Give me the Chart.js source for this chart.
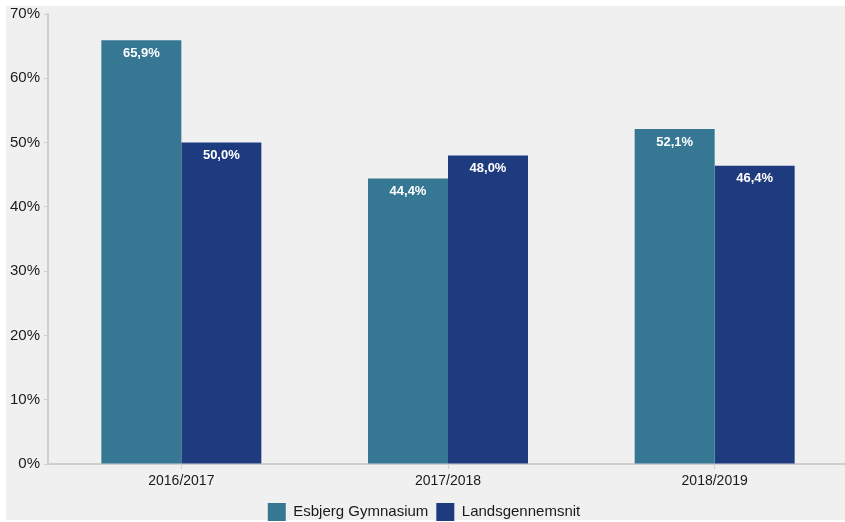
<!DOCTYPE html>
<html>
<head>
<meta charset="utf-8">
<script src="https://cdn.jsdelivr.net/npm/chart.js@4"></script>
<style>
  body { margin: 0; background: #fff; overflow: hidden; }
  #outer { width: 845px; height: 522px; overflow: hidden; position: relative; }
  #wrap { width: 848px; height: 531px; position: absolute; left: 0; top: 0; }
</style>
</head>
<body>
<div id="outer"><div id="wrap"><canvas id="chart"></canvas></div></div>
<script>
// data
const years = ['2016/2017', '2017/2018', '2018/2019'];
const esbjerg = [65.9, 44.4, 52.1];
const landsgennemsnit = [50.0, 48.0, 46.4];
const yTicks = [0, 10, 20, 30, 40, 50, 60, 70];

const FONT = '"Liberation Sans", Arial, Helvetica, sans-serif';

// grey panel behind everything
const panelBg = {
    id: 'panelBg',
    beforeDraw(chart) {
        const c = chart.ctx;
        c.save();
        c.fillStyle = '#f0f0f0';
        c.fillRect(6, 6, chart.width - 6, 514);
        c.restore();
    }
};

// white value labels inside top of each bar
const barLabels = {
    id: 'barLabels',
    afterDatasetsDraw(chart) {
        const c = chart.ctx;
        c.save();
        c.fillStyle = '#ffffff';
        c.font = 'bold 13px ' + FONT;
        c.textAlign = 'center';
        c.textBaseline = 'middle';
        chart.data.datasets.forEach((ds, i) => {
            chart.getDatasetMeta(i).data.forEach((bar, j) => {
                const txt = ds.data[j].toFixed(1).replace('.', ',') + '%';
                c.fillText(txt, bar.x, bar.y + 13);
            });
        });
        c.restore();
    }
};

const ctx = document.getElementById('chart').getContext('2d');
new Chart(ctx, {
    type: 'bar',
    data: {
        labels: years,
        datasets: [{
            label: 'Esbjerg Gymnasium',
            data: esbjerg,
            backgroundColor: '#367894',
            borderWidth: 0
        }, {
            label: 'Landsgennemsnit',
            data: landsgennemsnit,
            backgroundColor: '#1f3b80',
            borderWidth: 0
        }]
    },
    options: {
        responsive: true,
        maintainAspectRatio: false,
        animation: false,
        layout: { padding: { top: 14, right: 0, left: 0, bottom: 0 } },
        datasets: { bar: { categoryPercentage: 0.6, barPercentage: 1.0 } },
        plugins: {
            legend: {
                position: 'bottom',
                labels: {
                    boxWidth: 18,
                    boxHeight: 18,
                    padding: 8,
                    color: '#1a1a1a',
                    font: { family: FONT, size: 15 }
                }
            },
            tooltip: { enabled: false }
        },
        scales: {
            y: {
                min: 0,
                max: 70,
                afterBuildTicks(axis) { axis.ticks = yTicks.map(v => ({ value: v })); },
                afterFit(axis) { axis.width = 48; },
                ticks: {
                    callback: v => v + '%',
                    color: '#1a1a1a',
                    padding: 4,
                    font: { family: FONT, size: 15 }
                },
                grid: { drawOnChartArea: false, tickLength: 4, color: '#cfcfcf' },
                border: { color: '#cfcfcf', width: 2 }
            },
            x: {
                afterFit(axis) { axis.height = 31; },
                ticks: {
                    color: '#1a1a1a',
                    padding: 4,
                    font: { family: FONT, size: 14 }
                },
                grid: { drawOnChartArea: false, offset: false, tickLength: 5, color: '#cfcfcf' },
                border: { color: '#cfcfcf', width: 2 }
            }
        }
    },
    plugins: [panelBg, barLabels]
});
</script>
</body>
</html>
